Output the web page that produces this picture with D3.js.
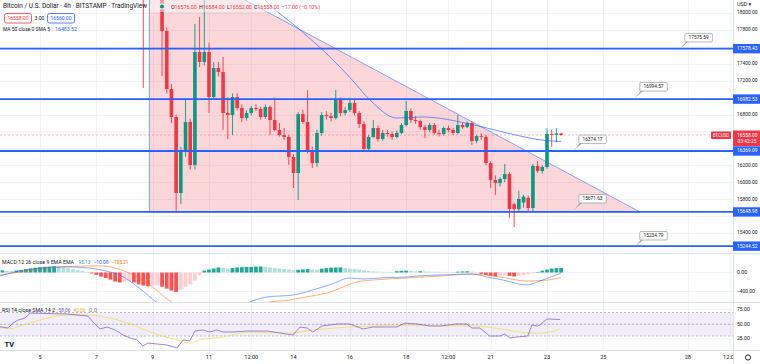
<!DOCTYPE html>
<html><head><meta charset="utf-8">
<script src="https://cdn.jsdelivr.net/npm/d3@7"></script>
<style>body{margin:0;background:#fff;}svg{display:block;font-family:Roboto,"DejaVu Sans",sans-serif;}</style>
</head><body><svg id="c" width="760" height="364"></svg>
<script>
// ---------------- DATA ----------------
// bar index 0 = Nov 5 00:00, 4h bars
const candleStart = 22;
const opens  = [18700,18400,18550,18320,18250,17787,17102,16771,15873,16381,16712,16204,17539,17421,17539,17007,17350,17303,16818,16794,17007,16877,16759,16818,16877,16865,16771,16889,16735,16617,16558,16535,16298,16109,16806,16712,16381,16227,16582,16794,16782,16759,16972,16818,16853,16937,16818,16688,16393,16535,16641,16511,16582,16570,16535,16582,16676,16842,16735,16723,16652,16617,16676,16582,16570,16641,16617,16582,16676,16652,16700,16487,16546,16535,16227,16026,15990,16038,16097,15740,15683,15760,15815,15695,16192,16133,16180,16570,16560,16576];
const highs  = [18750,18700,18600,18420,18300,17830,17160,16800,16420,16972,16750,17870,17953,18250,17650,17421,17421,17480,17007,17050,17050,16920,16850,16900,16920,16890,16920,16910,17000,16700,16640,16560,16330,16830,16853,17090,16420,16620,16830,16840,16820,17090,17000,16890,16980,16970,16840,16720,16560,16735,16670,16620,16620,16600,16610,16700,16960,16870,16780,16740,16680,16700,16700,16620,16660,16670,16640,16794,16700,16720,16720,16560,16580,16560,16250,16080,16060,16215,16120,15760,15900,15850,15840,16215,16250,16200,16640,16620,16640,16584];
const lows   = [17114,18250,18250,18180,17255,17050,16700,15636,15743,16300,16150,16150,17362,17380,16818,16972,17250,16617,16510,16558,16850,16712,16730,16790,16840,16740,16750,16558,16600,16540,16500,16204,15932,15790,16690,16340,16168,16180,16550,16740,16720,16740,16780,16790,16830,16790,16640,16369,16370,16520,16480,16490,16540,16500,16520,16570,16660,16700,16690,16620,16523,16590,16560,16540,16550,16590,16560,16570,16630,16640,16440,16460,16500,16200,15932,15850,15950,16000,15577,15471,15640,15700,15650,15660,16110,16100,16160,16420,16470,16552];
const closes = [18400,18550,18320,18250,17787,17102,16771,15873,16381,16712,16204,17539,17421,17539,17007,17350,17303,16818,16794,17007,16877,16759,16818,16877,16865,16771,16889,16735,16617,16558,16535,16298,16109,16806,16712,16381,16227,16582,16794,16782,16759,16972,16818,16853,16937,16818,16688,16393,16535,16641,16511,16582,16570,16535,16582,16676,16842,16735,16723,16652,16617,16676,16582,16570,16641,16617,16582,16676,16652,16700,16487,16546,16535,16227,16026,15990,16038,16097,15683,15683,15802,15830,15695,16192,16133,16180,16570,16560,16576,16558];

// MA 50 : [bar index, value]
const maPoints = [[40,18700],[47.9,18154],[55.4,17799],[61.8,17480],[66.5,17208],[70.3,16972],[76,16759],[81.6,16771],[91.6,16688],[98.6,16594],[108,16491],[111,16483.52]];

// horizontal levels and notes
const levels = [17578.43,16982.53,16369.09,15648.98,15244.52];
const notes = [[136.3,17575.59],[126.7,16994.57],[113.7,16374.17],[113.7,15671.63],[126.7,15234.79]];
const triangle = [[23.3,18760],[23.3,15649],[127.8,15649]];
const lastPrice = 16558.00;

// MACD histogram (bar -8 .. 111)
const histStart = -8;
const histVals = [45,38,32,42,55,70,85,100,110,118,125,132,125,110,90,70,50,32,15,
 -20,-50,-85,-115,-150,-190,-210,-195,-185,-210,-250,-275,-290,-275,-265,-300,-340,-380,-410,-360,-300,-250,-170,-65,
 40,62,85,105,95,85,95,105,112,116,118,124,127,118,108,96,86,75,64,52,58,64,70,62,60,80,92,102,106,108,96,86,74,62,45,32,22,18,15,14,13,28,36,40,32,24,28,22,20,16,15,12,10,8,18,22,26,18,8,
 -30,-52,-72,-84,-76,-64,-72,-84,-66,-52,-40,-20,10,40,62,82,92,95.13];
const macdLine = [[-8.5,-74],[-5,20],[0.6,95],[5,120],[10,100],[14,30],[17,-53],[21.3,-340],[25,-640],[28,-820],[31,-940],[34,-960],[37,-900],[40,-820],[43.9,-650],[48.3,-516],[53.9,-474],[58.1,-368],[62,-250],[66,-116],[68.8,-137],[73,-110],[78.2,-95],[80.3,-74],[86,-50],[92.2,-32],[95.2,-95],[98.6,-158],[103.7,-263],[106.5,-179],[109,-90],[111,-10.08]];
const signalLine = [[-8.5,-53],[-1.5,53],[5,120],[12.8,140],[18.5,10],[23.4,-263],[28.3,-642],[32,-800],[36,-880],[40,-870],[44,-780],[47.5,-642],[53.2,-579],[57,-510],[61.1,-432],[67.5,-200],[72,-150],[78.2,-116],[85.2,-74],[92.2,-32],[98,-95],[103.7,-179],[108,-160],[111,-105.21]];

// RSI
const rsiLine = [[-8.5,45.8],[-6.8,43.6],[-5.8,52],[-4.7,57],[-3.2,60.6],[-2.1,69],[5.8,67.4],[10.2,64],[11.3,53.8],[12.8,42],[14.3,45.3],[16,40.2],[17.7,31.7],[19.2,26.6],[20.7,23.2],[21.9,13],[23,18],[24.9,16.4],[27,14.7],[29.2,9.6],[30.5,23.2],[31.9,21.5],[33,38.5],[34.7,40.2],[36.2,36.8],[37.6,40.2],[39,36.8],[41.1,36.8],[44.1,38.5],[45.4,38.5],[48.4,38.5],[51.1,35.1],[53.9,31.7],[55.4,45.3],[56.9,43.6],[58.1,36.8],[60.1,47],[63.3,50.4],[66,50.4],[68.8,41.9],[70.9,45.3],[73.9,45.3],[76,45.3],[77.7,52],[80.3,50.4],[83.1,47],[85.2,47],[88.8,50.4],[90.9,50.4],[92,43.6],[93.7,43.6],[95.8,30],[98,30],[99,33.4],[100.1,26.6],[101.6,28.3],[103.9,30],[104.8,48.7],[105.9,47],[106.5,48.7],[108,59],[110.8,58.06]];
const rsiSma = [[-8.5,45.3],[-6.8,41.9],[-3.6,48.7],[5.8,65.7],[10,65.7],[14.9,60.6],[19.8,48.7],[21.3,43.6],[24.9,33],[29.2,23.2],[32,18],[34,23.2],[39,28.3],[44.7,36.8],[53.2,35.1],[58.1,40.2],[66,45.3],[70.9,47],[78.2,48.7],[85.2,47],[92.2,47],[99.5,40.2],[104.4,35.1],[107.1,35.1],[110.8,42.06]];

// axes
const priceTicks = d3.range(15200, 18001, 200);
const timeTickIdx = [0,12,24,36,45,54,66,78,87,96,108,120,138,147];
const timeTickLab = ['5','7','9','11','12:00','14','16','18','12:00','21','23','25','28','12:00'];

// ---------------- DRAW ----------------
const UP='#089981', DN='#f23645', BLUE='#2962ff', GRID='#f0f3fa', TXT='#131722';
const AX=733;
const P={main:[0,253], macd:[254,302], rsi:[303,350]};
const svg=d3.select('#c');
const x=d3.scaleLinear().domain([0,108]).range([40,547]);
const y=d3.scaleLinear().domain([15400,18000]).range([233,13]);
const yM=d3.scaleLinear().domain([-400,0]).range([291.5,272.5]);
const yR=d3.scaleLinear().domain([30,70]).range([336,312.5]);

function T(parent,px,py,str,size,color,len,anchor){
  const t=parent.append('text').attr('x',px).attr('y',py).attr('dominant-baseline','middle')
    .attr('font-size',size).attr('fill',color).text(str);
  if(anchor) t.attr('text-anchor',anchor);
  if(len){t.attr('textLength',len).attr('lengthAdjust','spacingAndGlyphs');}
  return t;
}
const numW=s=>s.length*2.55;

const defs=svg.append('defs');
Object.entries(P).forEach(([k,[a,b]])=>defs.append('clipPath').attr('id','cl-'+k).append('rect').attr('x',0).attr('y',a).attr('width',AX).attr('height',b-a));
defs.append('clipPath').attr('id','cl-time').append('rect').attr('x',0).attr('y',350).attr('width',AX).attr('height',14);

// grid
const grid=svg.append('g');
grid.selectAll('line.v').data(timeTickIdx).join('line').attr('x1',d=>Math.round(x(d))+0.5).attr('x2',d=>Math.round(x(d))+0.5).attr('y1',0).attr('y2',350).attr('stroke',GRID);
grid.selectAll('line.h').data(priceTicks).join('line').attr('x1',0).attr('x2',AX).attr('y1',d=>Math.round(y(d))+0.5).attr('y2',d=>Math.round(y(d))+0.5).attr('stroke',GRID);
grid.selectAll('line.m').data([0,-400]).join('line').attr('x1',0).attr('x2',AX).attr('y1',d=>yM(d)).attr('y2',d=>yM(d)).attr('stroke',GRID);
grid.selectAll('line.r').data([75,50,25]).join('line').attr('x1',0).attr('x2',AX).attr('y1',d=>yR(d)).attr('y2',d=>yR(d)).attr('stroke',GRID);

// main pane
const gm=svg.append('g').attr('clip-path','url(#cl-main)');
gm.append('path').attr('d',d3.line().x(d=>x(d[0])).y(d=>y(d[1]))(triangle)+'Z')
  .attr('fill','rgba(242,54,69,0.2)').attr('stroke','rgba(41,98,255,0.55)').attr('stroke-width',1);

const candles=opens.map((o,k)=>({i:candleStart+k,o,h:highs[k],l:lows[k],c:closes[k]}));
const bw=3.6;
gm.selectAll('line.wick').data(candles).join('line')
  .attr('x1',d=>x(d.i)).attr('x2',d=>x(d.i)).attr('y1',d=>y(d.h)).attr('y2',d=>y(d.l))
  .attr('stroke',d=>d.c>=d.o?UP:DN).attr('stroke-width',0.9);
gm.selectAll('rect.body').data(candles).join('rect')
  .attr('x',d=>x(d.i)-bw/2).attr('width',bw)
  .attr('y',d=>y(Math.max(d.o,d.c))).attr('height',d=>Math.max(0.8,Math.abs(y(d.o)-y(d.c))))
  .attr('fill',d=>d.c>=d.o?UP:DN);

gm.append('path').datum(maPoints).attr('d',d3.line().curve(d3.curveMonotoneX).x(d=>x(d[0])).y(d=>y(d[1])))
  .attr('fill','none').attr('stroke',BLUE).attr('stroke-opacity',0.75).attr('stroke-width',0.9);

gm.append('line').attr('x1',0).attr('x2',AX).attr('y1',y(lastPrice)).attr('y2',y(lastPrice))
  .attr('stroke',DN).attr('stroke-opacity',0.45).attr('stroke-dasharray','2,2').attr('stroke-width',0.8);

gm.selectAll('line.lvl').data(levels).join('line').attr('x1',0).attr('x2',AX)
  .attr('y1',d=>y(d)).attr('y2',d=>y(d)).attr('stroke',BLUE).attr('stroke-width',1.8);

// notes
notes.forEach(d=>{
  const ax=x(d[0]),ay=y(d[1]);
  gm.append('path').attr('d',`M${ax},${ay}L${ax+6.5},${ay-7.5}L${ax+8.5},${ay-7.5}Z`).attr('fill','#9598a1');
  gm.append('rect').attr('x',ax+5).attr('y',ay-15.5).attr('width',27.5).attr('height',8.5).attr('rx',1)
    .attr('fill','#fff').attr('stroke','#9598a1').attr('stroke-width',0.7);
  T(gm,ax+18.75,ay-11.1,d[1].toFixed(2),4.8,TXT,20,'middle');
});

// header legend
gm.append('rect').attr('x',150).attr('y',0).attr('width',176).attr('height',12).attr('fill','rgba(255,255,255,0.45)');
T(svg,3,6.5,'Bitcoin / U.S. Dollar · 4h · BITSTAMP · TradingView',6.6,TXT,144);
svg.append('circle').attr('cx',162).attr('cy',6.5).attr('r',2.6).attr('fill',UP).attr('stroke','#fff').attr('stroke-width',1);
const ot=svg.append('text').attr('x',171).attr('y',6.5).attr('dominant-baseline','middle').attr('font-size',5.8)
  .attr('textLength',149).attr('lengthAdjust','spacingAndGlyphs');
[['O','16576.00'],['H','16584.00'],['L','16552.00'],['C','16558.00']].forEach(([k,v],j)=>{
  ot.append('tspan').attr('fill',TXT).attr('dx',j?2.5:0).text(k);ot.append('tspan').attr('fill',DN).text(v);});
ot.append('tspan').attr('fill',DN).attr('dx',2.5).text('−17.00 (−0.10%)');
svg.append('rect').attr('x',4.5).attr('y',13.5).attr('width',27).attr('height',9.5).attr('rx',2).attr('fill','#fff').attr('stroke',DN).attr('stroke-width',0.8);
T(svg,18,18.4,'16558.00',5.4,DN,21,'middle');
T(svg,39.5,18.4,'3.00',5.4,TXT,10,'middle');
svg.append('rect').attr('x',47.5).attr('y',13.5).attr('width',27).attr('height',9.5).attr('rx',2).attr('fill','#fff').attr('stroke',BLUE).attr('stroke-width',0.8);
T(svg,61,18.4,'16560.00',5.4,BLUE,21,'middle');
T(svg,3,29.5,'MA 50 close 0 SMA 5',5.6,TXT,47);
T(svg,55,29.5,'16483.52',5.6,BLUE,22);

// MACD pane
const gmc=svg.append('g').attr('clip-path','url(#cl-macd)');
const hist=histVals.map((v,k)=>({i:histStart+k,v,p:k?histVals[k-1]:v}));
const hcol=d=>d.v>=0?(d.v>=d.p?'#26a69a':'#b2dfdb'):(d.v<d.p?'#ff5252':'#ffcdd2');
gmc.selectAll('rect').data(hist).join('rect').attr('x',d=>x(d.i)-1.9).attr('width',3.8)
  .attr('y',d=>Math.min(yM(0),yM(d.v))).attr('height',d=>Math.abs(yM(d.v)-yM(0))).attr('fill',hcol);
const lm=d3.line().curve(d3.curveMonotoneX).x(d=>x(d[0])).y(d=>yM(d[1]));
gmc.append('path').attr('d',lm(signalLine)).attr('fill','none').attr('stroke','#ff6d00').attr('stroke-opacity',0.6).attr('stroke-width',0.9);
gmc.append('path').attr('d',lm(macdLine)).attr('fill','none').attr('stroke',BLUE).attr('stroke-opacity',0.6).attr('stroke-width',0.9);
T(svg,2,263,'MACD 12 26 close 9 EMA EMA',5.6,TXT,72);
T(svg,78.5,263,'95.13',5.6,'#26a69a',12);
T(svg,93.5,263,'−10.08',5.6,BLUE,15);
T(svg,111.5,263,'−105.21',5.6,'#ff6d00',17);

// RSI pane
const gr=svg.append('g').attr('clip-path','url(#cl-rsi)');
gr.append('rect').attr('x',0).attr('width',AX).attr('y',yR(70)).attr('height',yR(30)-yR(70)).attr('fill','rgba(126,87,194,0.1)');
gr.selectAll('line.b').data([70,50,30]).join('line').attr('x1',0).attr('x2',AX).attr('y1',d=>yR(d)).attr('y2',d=>yR(d))
  .attr('stroke','#787b86').attr('stroke-opacity',0.7).attr('stroke-width',0.7).attr('stroke-dasharray','2,2');
gr.append('path').attr('d',d3.line().curve(d3.curveMonotoneX).x(d=>x(d[0])).y(d=>yR(d[1]))(rsiSma)).attr('fill','none').attr('stroke','#f5d63d').attr('stroke-opacity',0.75).attr('stroke-width',0.9);
gr.append('path').attr('d',d3.line().x(d=>x(d[0])).y(d=>yR(d[1]))(rsiLine)).attr('fill','none').attr('stroke','#7e57c2').attr('stroke-opacity',0.8).attr('stroke-width',0.9);
T(svg,2,311,'RSI 14 close SMA 14 2',5.6,TXT,53);
T(svg,58.5,311,'58.06',5.6,'#7e57c2',12);
T(svg,73.5,311,'42.06',5.6,'#e8b923',12);
T(svg,89,311,'0',5.6,'#787b86');
T(svg,94,311,'0',5.6,'#787b86');
svg.append('text').attr('x',4.5).attr('y',347).attr('font-size',7.5).attr('font-weight','bold').attr('fill',TXT).text('TV');

// pane separators
svg.selectAll('line.sep').data([253.5,302.5,350.5]).join('line').attr('x1',0).attr('x2',760).attr('y1',d=>d).attr('y2',d=>d).attr('stroke','#e0e3eb').attr('stroke-width',1);
svg.append('line').attr('x1',AX+0.5).attr('x2',AX+0.5).attr('y1',0).attr('y2',364).attr('stroke','#e0e3eb');

// price axis
const special=[...levels,lastPrice];
const vis=priceTicks.filter(t=>special.every(s=>Math.abs(y(t)-y(s))>8) && y(t)>8 && y(t)<250);
vis.forEach(d=>T(svg,737,y(d),d.toFixed(2),5.6,TXT,numW(d.toFixed(2))));
T(svg,737,4.5,'USD ▾',5.4,TXT);
levels.forEach(d=>{
  svg.append('rect').attr('x',AX).attr('y',y(d)-4.7).attr('width',27).attr('height',9.4).attr('fill',BLUE);
  T(svg,737,y(d),d.toFixed(2),5.6,'#fff',20.4);
});
// last price labels
svg.append('rect').attr('x',AX).attr('y',y(lastPrice)-4.5).attr('width',27).attr('height',15.5).attr('fill',DN);
T(svg,737,y(lastPrice)+0.3,lastPrice.toFixed(2),5.6,'#fff',20.4);
T(svg,737.5,y(lastPrice)+6.8,'03:42:25',5.2,'#fff',19);
svg.append('rect').attr('x',711).attr('y',y(lastPrice)-3.5).attr('width',20).attr('height',7.5).attr('rx',1).attr('fill',DN);
T(svg,721,y(lastPrice)+0.3,'BTCUSD',4.8,'#fff',16,'middle');
// macd / rsi axes
[0,-400].forEach(d=>{const s=(d<0?'−':'')+Math.abs(d).toFixed(2);T(svg,737,yM(d),s,5.6,TXT,numW(s));});
[75,50,25].forEach(d=>{const s=d.toFixed(2);T(svg,737,yR(d),s,5.6,TXT,numW(s));});

// time axis
const gt=svg.append('g').attr('clip-path','url(#cl-time)');
timeTickIdx.forEach((d,k)=>T(gt,x(d),357.5,timeTickLab[k],5.6,TXT,null,'middle'));
svg.append('circle').attr('cx',748).attr('cy',357.5).attr('r',2.6).attr('fill','none').attr('stroke',TXT).attr('stroke-width',0.9);
</script></body></html>
